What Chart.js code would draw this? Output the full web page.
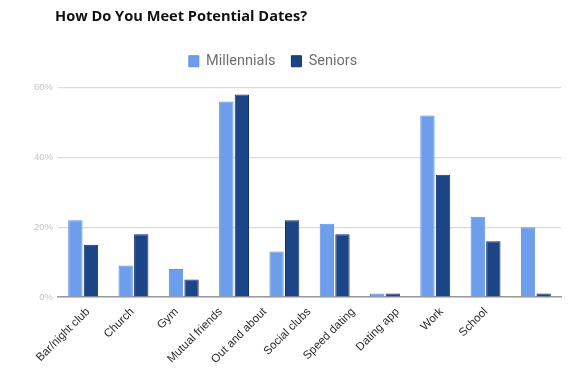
<!DOCTYPE html>
<html>
<head>
<meta charset="utf-8">
<script src="https://cdn.jsdelivr.net/npm/chart.js@4/dist/chart.umd.min.js"></script>
<style>
  html, body { margin: 0; padding: 0; background: #ffffff; }
  #wrap { position: relative; width: 574px; height: 373px; }
  #title { position: absolute; left: 55px; top: 5px; font-family: "Open Sans", sans-serif; font-weight: 700; font-size: 14.6px; color: #111; white-space: nowrap; }
  canvas { position: absolute; left: 0; top: 0; }
</style>
</head>
<body>
<div id="wrap">
  <canvas id="c" width="574" height="373"></canvas>
  <div id="title">How Do You Meet Potential Dates?</div>
</div>
<script>
const categories = ["Bar/night club", "Church", "Gym", "Mutual friends", "Out and about", "Social clubs", "Speed dating", "Dating app", "Work", "School"];
const millennials = [22, 9, 8, 56, 13, 21, 1, 52, 23, 20];
const seniors = [15, 18, 5, 58, 22, 18, 1, 35, 16, 1];
const seriesNames = ["Millennials", "Seniors"];
const yTicks = [0, 20, 40, 60];

const legendShift = {
  id: 'legendShift',
  afterLayout(chart) {
    const lg = chart.legend;
    if (lg) { lg.left -= 22; lg.right -= 22; lg.top -= 9; lg.bottom -= 9; }
  }
};

new Chart(document.getElementById('c'), {
  type: 'bar',
  data: {
    labels: categories,
    datasets: [
      { label: seriesNames[0], data: millennials, backgroundColor: '#6d9eeb', borderColor: '#5f90df', borderWidth: 1 },
      { label: seriesNames[1], data: seniors, backgroundColor: '#1c4587', borderColor: '#10306a', borderWidth: 1 }
    ]
  },
  plugins: [legendShift],
  options: {
    responsive: false,
    animation: false,
    layout: { padding: { left: 29, right: 13, top: 47, bottom: 0 } },
    datasets: { bar: { categoryPercentage: 0.62, barPercentage: 0.92 } },
    plugins: {
      legend: {
        position: 'top',
        labels: {
          boxWidth: 10, boxHeight: 11,
          color: '#6f6f6f',
          font: { family: 'Roboto', size: 14.5 },
          padding: 16
        }
      },
      tooltip: { enabled: false }
    },
    scales: {
      x: {
        grid: { display: false, drawTicks: false },
        border: { display: true, color: '#9a9a9a', width: 1.5 },
        ticks: { display: false }
      },
      xLabels: {
        type: 'linear',
        axis: 'x',
        position: 'bottom',
        offset: false,
        min: -0.679,
        max: 10.70,
        afterBuildTicks(scale) { scale.ticks = categories.map((c, i) => ({ value: i })); },
        afterFit(scale) { scale.height = 76; },
        grid: { display: false, drawTicks: false, offset: false },
        border: { display: false },
        ticks: {
          color: '#2a2a2a',
          font: { family: 'Liberation Sans', size: 11.5 },
          maxRotation: 45, minRotation: 45,
          autoSkip: false,
          padding: 8,
          callback: (v) => categories[v]
        }
      },
      y: {
        min: 0, max: 60,
        afterBuildTicks(scale) { scale.ticks = yTicks.map(v => ({ value: v })); },
        grid: { color: '#dcdcdc', drawTicks: false, lineWidth: 1.2 },
        border: { display: false },
        ticks: {
          color: '#c4c4c4',
          font: { family: 'Liberation Sans', size: 9.5 },
          padding: 5,
          callback: v => v + '%'
        }
      }
    }
  }
});
</script>
</body>
</html>
